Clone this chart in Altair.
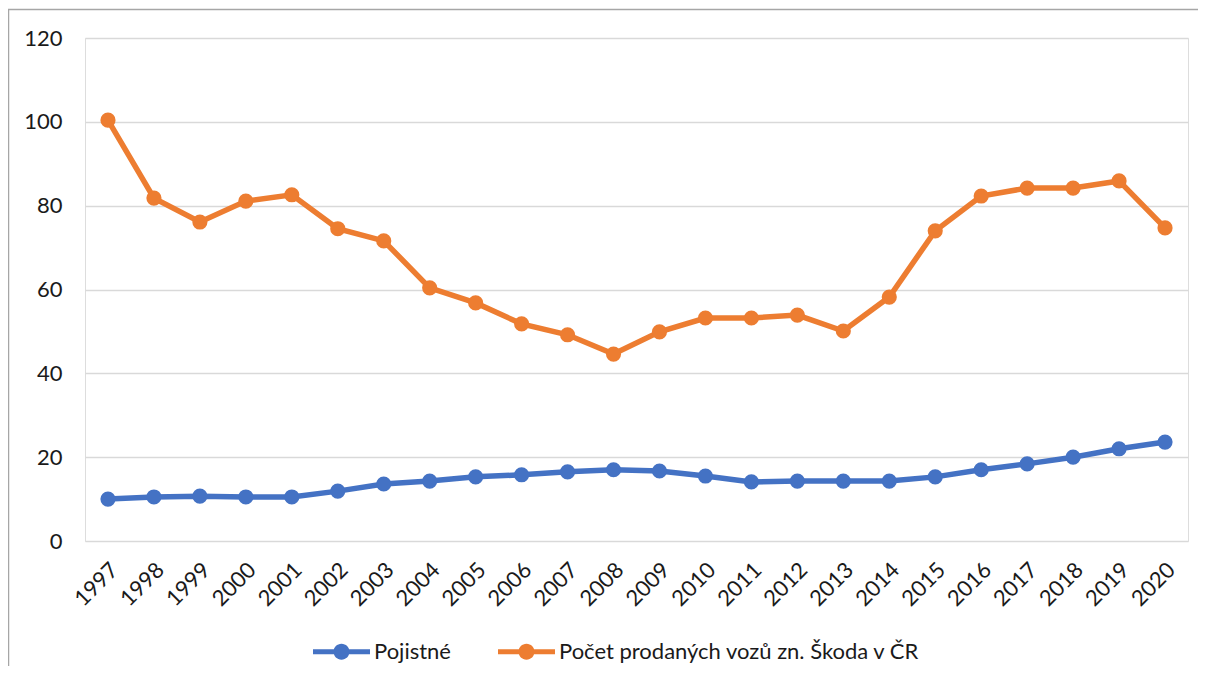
import altair as alt
import pandas as pd

years = [str(y) for y in range(1997, 2021)]
pojistne = [10.0, 10.5, 10.7, 10.5, 10.5, 11.9, 13.6, 14.3, 15.3, 15.8, 16.5, 17.0,
            16.7, 15.5, 14.1, 14.3, 14.3, 14.3, 15.3, 17.0, 18.4, 20.0, 22.0, 23.6]
skoda = [100.4, 81.8, 76.1, 81.1, 82.6, 74.5, 71.6, 60.4, 56.8, 51.8, 49.2, 44.6,
         49.9, 53.2, 53.2, 53.9, 50.1, 58.2, 74.0, 82.3, 84.2, 84.2, 85.9, 74.7]
series_names = ["Pojistné", "Počet prodaných vozů zn. Škoda v ČR"]
series_colors = ["#4472C4", "#ED7D31"]
y_ticks = [0, 20, 40, 60, 80, 100, 120]

rows = []
for name, vals in zip(series_names, [pojistne, skoda]):
    for yr, v in zip(years, vals):
        rows.append({"rok": yr, "serie": name, "hodnota": v})
df = pd.DataFrame(rows)

FONT = "Lato"
TXT = "#1a1a1a"
FS = 22

x_enc = alt.X("rok:O", sort=years, title=None,
              axis=alt.Axis(labelAngle=-45, labelAlign="right", labelBaseline="top",
                            labelPadding=18, labelOffset=-1, ticks=False, domain=False,
                            grid=False, labelFont=FONT, labelFontSize=FS,
                            labelColor=TXT))
y_enc = alt.Y("hodnota:Q", title=None,
              scale=alt.Scale(domain=[0, 120], nice=False),
              axis=alt.Axis(values=y_ticks, ticks=False, domain=False,
                            gridColor="#D9D9D9", gridWidth=1.5, labelPadding=23,
                            labelFont=FONT, labelFontSize=FS, labelColor=TXT))
color_scale = alt.Scale(domain=series_names, range=series_colors)

legend_path = ("M -1 -0.09 L -0.25 -0.09 L -0.25 0.09 L -1 0.09 Z "
               "M 0.25 -0.09 L 1 -0.09 L 1 0.09 L 0.25 0.09 Z "
               "M -0.28 0 A 0.28 0.28 0 1 1 0.28 0 A 0.28 0.28 0 1 1 -0.28 0 Z")

legend = alt.Legend(title=None, orient="none", direction="horizontal",
                    legendX=228, legendY=585,
                    symbolType=legend_path, symbolSize=3249,
                    symbolStrokeWidth=0, symbolOpacity=1,
                    labelFont=FONT, labelFontSize=FS, labelLimit=800,
                    labelColor=TXT, labelOffset=4,
                    columnPadding=47)

base = alt.Chart(df)
lines = base.mark_line(strokeWidth=5.5).encode(
    x=x_enc, y=y_enc,
    color=alt.Color("serie:N", scale=color_scale, sort=series_names, legend=legend),
)
points = base.mark_point(filled=True, size=230, opacity=1).encode(
    x=x_enc, y=y_enc,
    color=alt.Color("serie:N", scale=color_scale, sort=series_names, legend=legend),
)

frame_data = pd.DataFrame({"a": [0]})
frame_left = alt.Chart(frame_data).mark_rule(stroke="#A6A6A6", strokeWidth=1.5).encode(
    x=alt.value(-76.5), y=alt.value(-28.5), y2=alt.value(628))
frame_top = alt.Chart(frame_data).mark_rule(stroke="#A6A6A6", strokeWidth=1.5).encode(
    x=alt.value(-77), x2=alt.value(1113), y=alt.value(-28.5))

chart = alt.layer(frame_left, frame_top, lines, points).properties(
    width=1103, height=503,
    autosize=alt.AutoSizeParams(type="none"),
    padding={"left": 77, "top": 30, "right": 10, "bottom": 125},
).configure_view(strokeOpacity=0).configure(background="white")

chart.save("out.html", embed_options={"renderer": "svg", "actions": False})
